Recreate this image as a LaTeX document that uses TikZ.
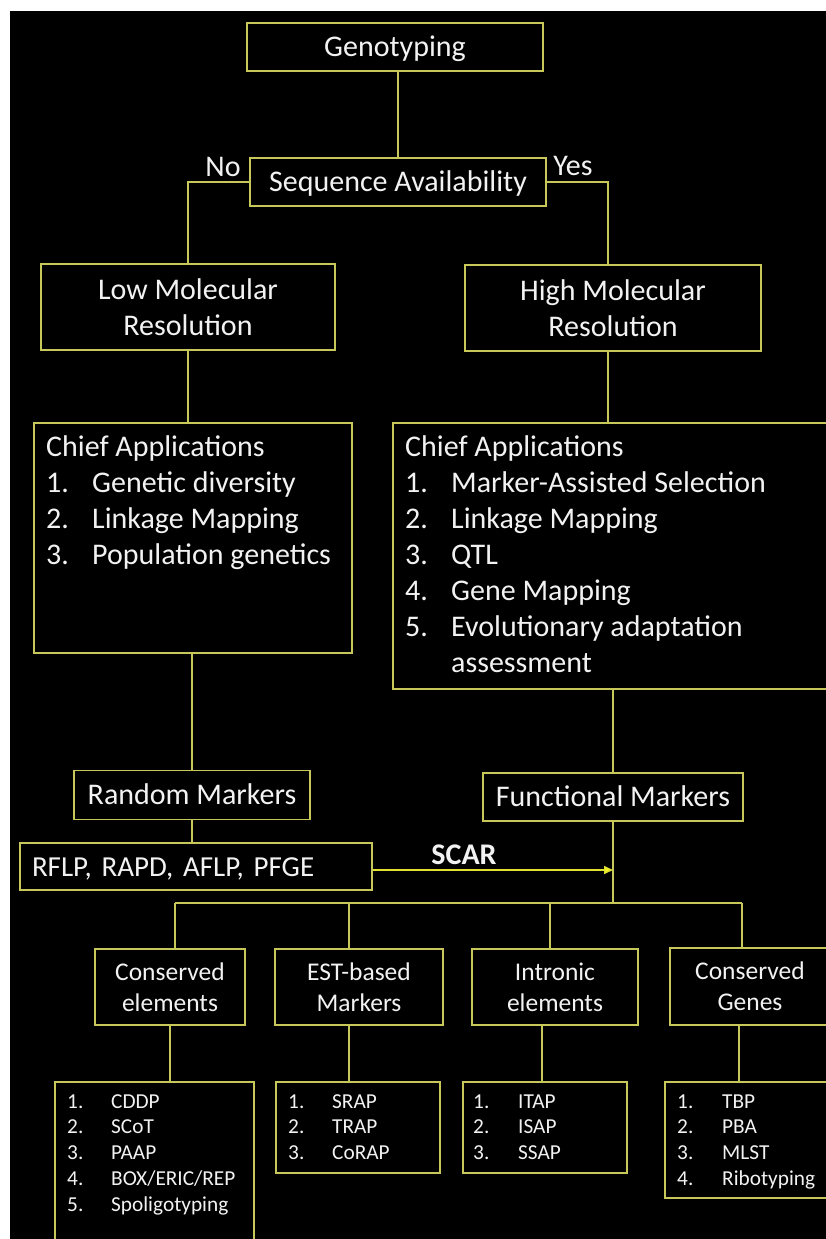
\documentclass[tikz,border=0pt]{standalone}
\usepackage{fontspec}
\setmainfont{Carlito}
\usetikzlibrary{arrows.meta}
\frenchspacing

\definecolor{edge}{RGB}{200,200,90}
\definecolor{ink}{RGB}{242,242,242}
\definecolor{tipyellow}{RGB}{250,250,20}

\newcommand\fbig{\fontsize{30}{36}\selectfont}
\newcommand\fmid{\fontsize{25.5}{31}\selectfont}
\newcommand\fsmall{\fontsize{21.3}{25.7}\selectfont}

\begin{document}
\begin{tikzpicture}[x=1pt,y=-1pt,
  box/.style={draw=edge, line width=1.5pt, inner sep=0pt, text=ink, align=center, font=\fbig},
  oneline/.style={box, text height=24pt, text depth=5pt},
  midbox/.style={box, font=\fmid},
  link/.style={draw=edge, line width=1.5pt},
  listtext/.style={inner sep=0pt, anchor=north west, text=ink, align=left},
  label/.style={inner sep=0pt, text=ink, font=\fbig}]

\useasboundingbox (0,0) rectangle (826,1239);
\fill[white] (0,0) rectangle (826,1239);
\fill[black] (10,11) rectangle (826,1239);

% top of the tree
\node[oneline, minimum width=296pt, minimum height=48pt] (geno) at (395,47) {Genotyping};
\node[oneline, minimum width=296pt, minimum height=48pt] (seq) at (398,182) {Sequence Availability};
\node[label] (no) at (223,167) {No};
\node[label] (yes) at (573,166) {Yes};

\node[box, minimum width=294pt, minimum height=86pt] (low) at (188,307) {Low Molecular\\Resolution};
\node[box, minimum width=296pt, minimum height=86pt] (high) at (613,308) {High Molecular\\Resolution};

% application boxes
\node[box, minimum width=318pt, minimum height=230pt] (lowapp) at (193,538) {};
\node[listtext, font=\fbig] (lowlist) at (46,431.5) {%
  \begin{tabular}{@{}p{46pt}@{}l@{}}
  \multicolumn{2}{@{}l@{}}{Chief Applications}\\
  1. & Genetic diversity\\
  2. & Linkage Mapping\\
  3. & Population genetics
  \end{tabular}};

\node[box, minimum width=436pt, minimum height=266pt] (highapp) at (611,556) {};
\node[listtext, font=\fbig] (highlist) at (405,431.5) {%
  \begin{tabular}{@{}p{46pt}@{}l@{}}
  \multicolumn{2}{@{}l@{}}{Chief Applications}\\
  1. & Marker-Assisted Selection\\
  2. & Linkage Mapping\\
  3. & QTL\\
  4. & Gene Mapping\\
  5. & Evolutionary adaptation\\
     & assessment
  \end{tabular}};

% marker types
\node[oneline, minimum width=236pt, minimum height=49pt] (random) at (192,795) {Random Markers};
\node[oneline, font=\fontsize{29}{35}\selectfont, minimum width=352pt, minimum height=47pt,
      text width=328pt, inner xsep=12pt, align=left] (rflp) at (196,866.5) {RFLP, RAPD, AFLP, PFGE};
\node[oneline, minimum width=260pt, minimum height=48pt] (func) at (613,797) {Functional Markers};

% functional marker families
\node[midbox, minimum width=150pt, minimum height=76pt] (cons) at (170,987) {Conserved\\elements};
\node[midbox, minimum width=168pt, minimum height=76pt] (est) at (359,987) {EST-based\\Markers};
\node[midbox, minimum width=166pt, minimum height=76pt] (intr) at (555,987) {Intronic\\elements};
\node[midbox, minimum width=160pt, minimum height=77pt] (gene) at (750,986.5) {Conserved\\Genes};

% marker lists
\node[box, minimum width=199pt, minimum height=170pt] (cddp) at (154.5,1167) {};
\node[listtext, font=\fsmall] (cddplist) at (67,1090) {%
  \begin{tabular}{@{}p{44pt}@{}l@{}}
  1. & CDDP\\ 2. & SCoT\\ 3. & PAAP\\ 4. & BOX/ERIC/REP\\ 5. & Spoligotyping
  \end{tabular}};
\node[box, minimum width=164pt, minimum height=91pt] (srap) at (358,1127.5) {};
\node[listtext, font=\fsmall] (sraplist) at (288,1090) {%
  \begin{tabular}{@{}p{44pt}@{}l@{}}
  1. & SRAP\\ 2. & TRAP\\ 3. & CoRAP
  \end{tabular}};
\node[box, minimum width=164pt, minimum height=91pt] (itap) at (545,1127.5) {};
\node[listtext, font=\fsmall] (itaplist) at (473,1090) {%
  \begin{tabular}{@{}p{45pt}@{}l@{}}
  1. & ITAP\\ 2. & ISAP\\ 3. & SSAP
  \end{tabular}};
\node[box, minimum width=164pt, minimum height=116pt] (tbp) at (747,1140) {};
\node[listtext, font=\fsmall] (tbplist) at (677,1090) {%
  \begin{tabular}{@{}p{45pt}@{}l@{}}
  1. & TBP\\ 2. & PBA\\ 3. & MLST\\ 4. & Ribotyping
  \end{tabular}};

% connectors
\draw[link] (seq.north) -- (seq.north |- geno.south);
\draw[link] (seq.west) -| (low.north);
\coordinate (yesdrop) at ([xshift=-5pt]high.north);
\draw[link] (seq.east) -| (yesdrop);
\draw[link] (low.south) -- (low.south |- lowapp.north);
\coordinate (highdrop) at ([xshift=-5pt]high.south);
\draw[link] (highdrop) -- (highdrop |- highapp.north);
\draw[link] (random.north) -- (random.north |- lowapp.south);
\draw[link] (func.north) -- (func.north |- highapp.south);
\draw[link] (random.south) -- (random.south |- rflp.north);

\coordinate (bus) at (613,903);
\draw[link] (func.south) -- (bus);
\coordinate (scarstart) at ([yshift=-3.5pt]rflp.east);
\draw[line width=1.5pt, draw={rgb,255:red,225;green,225;blue,50},
      -{Triangle[length=9pt,width=8pt,fill=tipyellow]}]
  (scarstart) -- (scarstart -| func.south)
  node[pos=0.38, yshift=15pt, inner sep=0pt, text=ink, font=\bfseries\fbig] (scar) {SCAR};

\coordinate (b1) at (175,903);
\coordinate (b2) at (349,903);
\coordinate (b3) at (550,903);
\coordinate (b4) at (742,903);
\draw[link] (b1) -- (b4);
\draw[link] (b1) -- (b1 |- cons.north);
\draw[link] (b2) -- (b2 |- est.north);
\draw[link] (b3) -- (b3 |- intr.north);
\draw[link] (b4) -- (b4 |- gene.north);

\draw[link] (cons.south) -- (cons.south |- cddp.north);
\coordinate (d2) at ([xshift=-10pt]est.south);
\draw[link] (d2) -- (d2 |- srap.north);
\coordinate (d3) at ([xshift=-13pt]intr.south);
\draw[link] (d3) -- (d3 |- itap.north);
\coordinate (d4) at ([xshift=-11pt]gene.south);
\draw[link] (d4) -- (d4 |- tbp.north);
\end{tikzpicture}
\end{document}
